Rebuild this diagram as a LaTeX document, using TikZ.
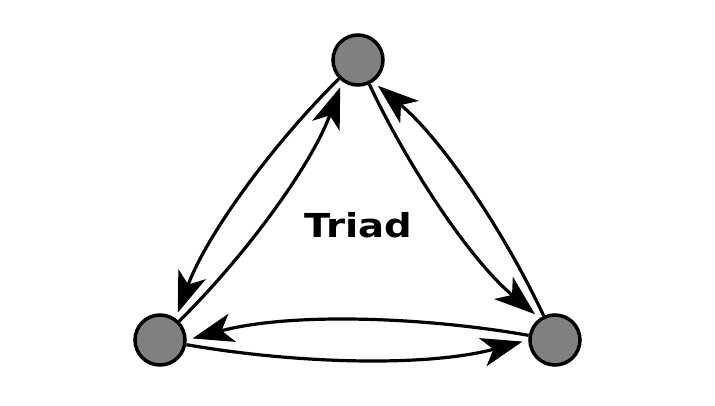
\documentclass[tikz,border=0pt]{standalone}
\usepackage{fontspec}
\newfontfamily\triadfont{DejaVu Sans}
\usetikzlibrary{arrows.meta}
\definecolor{vgray}{RGB}{128,128,128}
\begin{document}
\begin{tikzpicture}[x=1pt,y=1pt,
  vertex/.style={circle, draw=black, fill=vgray, line width=3.5pt, minimum size=50pt, inner sep=0pt},
  link/.style={line width=3.2pt, -{Stealth[length=41pt,width=29pt,inset=11pt]}, shorten >=6pt, looseness=0.8},
  title/.style={font=\triadfont\bfseries\fontsize{33}{39}\selectfont, anchor=base, inner sep=0pt, xscale=1.17}]
\fill[white] (0,0) rectangle (715,405);
\useasboundingbox (0,0) rectangle (715,405);
\node[vertex] (T) at (358,345) {};
\node[vertex] (L) at (160,65) {};
\node[vertex] (R) at (555,65) {};
\node[title] (lab) at (358.5,167.5) {Triad};
\draw[link] (T) to[out=224.7, in=69.7] (L.54.7);
\draw[link] (L) to[out=44.7, in=249.7] (T.234.7);
\draw[link] (T) to[out=295.1, in=140.1] (R.125.1);
\draw[link] (R) to[out=115.1, in=320.1] (T.305.1);
\draw[link] (L) to[out=-10, in=195] (R.180);
\draw[link] (R) to[out=170, in=15] (L.0);
\end{tikzpicture}
\end{document}
